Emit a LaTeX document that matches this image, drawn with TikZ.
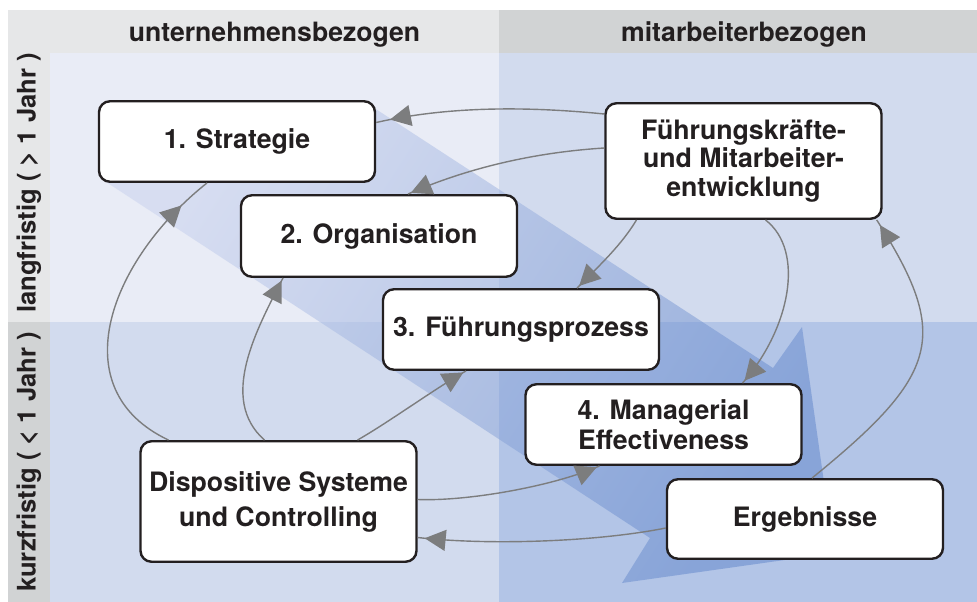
\documentclass[tikz,border=0pt]{standalone}
\usepackage{fontspec}
\setmainfont{TeX Gyre Heros}
\usetikzlibrary{arrows.meta,decorations.markings}
\definecolor{hdrA}{HTML}{E6E7E8}
\definecolor{hdrB}{HTML}{D1D3D4}
\definecolor{qTL}{HTML}{E9ECF6}
\definecolor{qTR}{HTML}{D2DBEE}
\definecolor{qBR}{HTML}{B3C5E7}
\definecolor{txt}{HTML}{231F20}
\definecolor{connc}{HTML}{7C7D7E}
\definecolor{bandA}{HTML}{C6D0EE}
\definecolor{bandB}{HTML}{5E84CA}
\tikzset{
  stepbox/.style={draw=txt, line width=2.4pt, rounded corners=11pt, fill=white,
    minimum width=276pt, inner sep=0pt, align=center, text=txt,
    font=\bfseries\fontsize{26.7}{29}\selectfont},
  hdr/.style={text=txt, font=\bfseries\fontsize{26.6}{30}\selectfont, inner sep=0pt},
  link/.style={draw=connc, line width=1.4pt, postaction={decorate},
    decoration={markings, mark=at position -#1 with {\arrow[connc]{Triangle[length=21pt,width=21pt]}}}},
  link/.default=3pt
}
\begin{document}
\begin{tikzpicture}[x=1pt,y=-1pt]
\useasboundingbox (0,0) rectangle (977,602);
\fill[white] (0,0) rectangle (977,602);
\fill[hdrA] (8,10) rectangle (499,53);
\fill[hdrB] (499,10) rectangle (977,53);
\fill[hdrA] (8,53) rectangle (50,322);
\fill[hdrB] (8,322) rectangle (50,602);
\fill[qTL] (50,53) rectangle (499,322);
\fill[qTR] (499,53) rectangle (977,322);
\fill[qTR] (50,322) rectangle (499,602);
\fill[qBR] (499,322) rectangle (977,602);

\node[hdr, anchor=base] (h1) at (274.5,41.5) {unternehmensbezogen};
\node[hdr, anchor=base] (h2) at (744,41.5) {mitarbeiterbezogen};
\node[hdr, rotate=90, font=\bfseries\fontsize{25.6}{30}\selectfont] (v1) at (29,183) {langfristig ( > 1 Jahr )};
\node[hdr, rotate=90, font=\bfseries\fontsize{25.6}{30}\selectfont] (v2) at (29,462) {kurzfristig ( < 1 Jahr )};

\shade[top color=bandA, bottom color=bandB, shading angle=57, opacity=0.5]
  (365,102) -- (773,368) -- (802,327) -- (834,553) -- (622,583) -- (650,538) -- (100,178) -- cycle;

\node[stepbox, minimum height=80.5pt] (s) at (237,141.5) {1. Strategie};
\node[stepbox, minimum height=81.5pt] (o) at (379,236) {2. Organisation};
\node[stepbox, minimum height=80.5pt] (p) at (521,329.5) {3. Führungsprozess};
\node[stepbox, minimum height=80.5pt, font=\bfseries\fontsize{26.7}{29.5}\selectfont] (m) at (663.5,424.5) {4. Managerial\\Effectiveness};
\node[stepbox, minimum height=115.5pt, font=\bfseries\fontsize{26.7}{28.5}\selectfont] (f) at (743.5,161) {Führungskräfte-\\und Mitarbeiter-\\entwicklung};
\node[stepbox, minimum height=120.5pt, font=\bfseries\fontsize{26.7}{35}\selectfont] (d) at (278.5,501.5) {Dispositive Systeme\\und Controlling};
\node[stepbox, minimum height=79.5pt] (e) at (805,519) {Ergebnisse};

\draw[link=14pt] ([yshift=47pt]f.west) .. controls +(-80,-8) and +(70,-16) .. ([yshift=19pt]s.east);
\draw[link] ([yshift=13pt]f.west) .. controls +(-80,5) and +(50,-22) .. ([xshift=29pt]o.north);
\draw[link] ([xshift=-107pt]f.south) .. controls +(-15,25) and +(22,-22) .. ([xshift=56pt]p.north);
\draw[link] ([xshift=22pt]f.south) .. controls +(40,31) and +(47.5,-54) .. ([xshift=79pt]m.north);
\draw[link=6pt] ([xshift=7pt]e.north) .. controls +(128,-104) and +(74,116) .. ([xshift=-6pt]f.south east);
\draw[link=7pt] ([yshift=-9pt]e.west) .. controls +(-70,14) and +(70,8) .. ([yshift=-36pt]d.east);
\draw[link] ([yshift=2pt]d.east) .. controls +(50,2) and +(-45,20) .. ([xshift=-64pt]m.south);
\draw[link] ([xshift=79pt]d.north) .. controls +(30,-17) and +(-30,17) .. ([xshift=-55pt]p.south);
\draw[link] ([xshift=-14pt]d.north) .. controls +(-46.5,-41) and +(-26,51) .. ([xshift=-96pt]o.south);
\draw[link=34pt] ([xshift=-110pt]d.north) .. controls +(-108,-51) and +(-97,77) .. ([xshift=-30pt]s.south);
\end{tikzpicture}
\end{document}
